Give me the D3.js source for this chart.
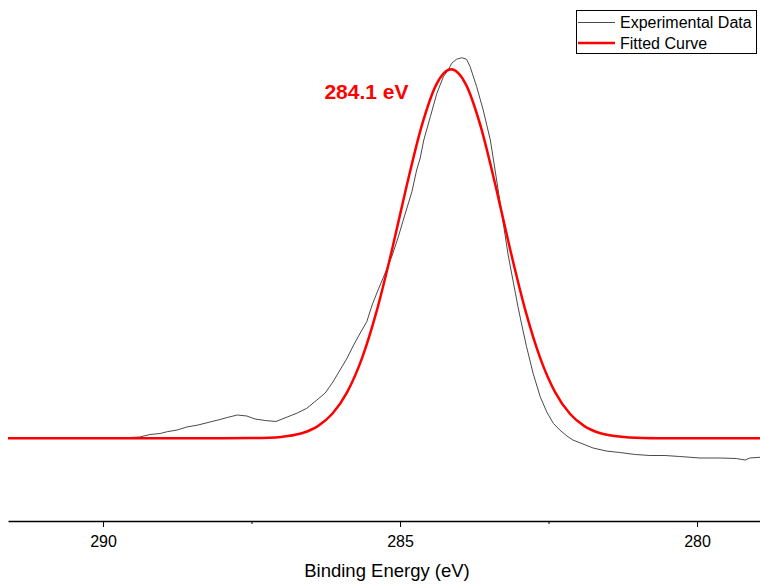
<!DOCTYPE html>
<html>
<head>
<meta charset="utf-8">
<script src="https://cdn.jsdelivr.net/npm/d3@7"></script>
<style>
  html, body { margin: 0; padding: 0; background: #fff; }
  svg text { font-family: Arial, "Liberation Sans", sans-serif; }
</style>
</head>
<body>
<svg id="chart" width="760" height="584"></svg>
<script>
// Experimental data: binding energy (eV) and intensity (a.u.)
const expEnergy = [291.57,291.23,290.89,290.56,290.22,289.88,289.55,289.38,289.21,289.04,288.92,288.75,288.59,288.40,288.20,288.03,287.91,287.74,287.58,287.44,287.27,287.09,286.90,286.73,286.57,286.40,286.26,286.13,286.01,285.89,285.79,285.67,285.56,285.47,285.37,285.25,285.13,285.03,284.92,284.80,284.72,284.66,284.60,284.49,284.38,284.27,284.21,284.16,284.13,284.05,283.96,283.88,283.82,283.71,283.60,283.48,283.40,283.27,283.18,283.10,283.01,282.95,282.87,282.76,282.64,282.53,282.42,282.31,282.19,282.09,281.92,281.75,281.53,281.30,281.04,280.79,280.54,280.29,279.95,279.61,279.34,279.19,279.11,278.94];
const expIntensity = [0.3,0.3,-0.2,0.3,-0.2,0.3,0.8,1.3,3.8,4.8,6.6,8.3,11.3,13.3,16.3,18.8,20.8,23.3,22.3,19.3,17.8,16.8,21.3,25.3,30.0,38.3,45.3,56.3,68.3,80.3,92.3,105.3,116.6,133.3,148.3,165.3,183.3,201.3,223.3,246.6,268.3,280.3,298.3,321.6,345.0,361.6,366.6,371.6,375.0,379.0,380.6,379.0,371.6,351.6,328.3,298.3,268.3,218.3,183.3,158.3,130.3,113.3,91.6,65.0,41.6,26.3,15.0,8.3,2.3,-1.7,-5.7,-9.7,-12.7,-14.2,-16.2,-17.2,-17.2,-18.2,-19.7,-19.7,-20.2,-21.7,-19.7,-19.0];

// Fitted curve
const fitEnergy = [291.6,290.0,289.0,288.0,287.5,287.0,286.89,286.64,286.39,286.14,285.89,285.64,285.39,285.14,284.89,284.64,284.39,284.14,283.89,283.64,283.39,283.14,282.89,282.64,282.39,282.14,281.89,281.64,281.39,281.14,280.64,280.0,279.0,278.94];
const fitIntensity = [0,0,0,0,0.2,1.4,2.2,5.3,11.9,24.5,46.2,80.2,127.9,187.3,252.0,311.4,353.7,369.0,353.7,311.4,252.0,187.3,127.9,80.2,46.2,24.5,11.9,5.3,2.2,0.8,0.1,0,0,0];

const majorTicks = [290, 285, 280];
const minorTicks = [287.5, 282.5];
const seriesNames = ["Experimental Data", "Fitted Curve"];
const peakLabel = "284.1 eV";
const peakEnergy = 284.1;
const axisTitle = "Binding Energy (eV)";

const svg = d3.select("#chart");
const xLeft = 8, xRight = 760, axisY = 521;

const x = d3.scaleLinear().domain([291.6, 278.94]).range([xLeft, xRight]);
const y = d3.scaleLinear().domain([0, 369]).range([438.3, 69.3]);

const expData = expEnergy.map((e, i) => ({e, v: expIntensity[i]}));
const fitData = fitEnergy.map((e, i) => ({e, v: fitIntensity[i]}));

svg.append("path")
  .datum(expData)
  .attr("fill", "none")
  .attr("stroke", "#4a4a4a")
  .attr("stroke-width", 1)
  .attr("d", d3.line().x(d => x(d.e)).y(d => y(d.v)));

svg.append("path")
  .datum(fitData)
  .attr("fill", "none")
  .attr("stroke", "#ff0000")
  .attr("stroke-width", 2.5)
  .attr("d", d3.line().x(d => x(d.e)).y(d => y(d.v)).curve(d3.curveMonotoneX));

// Axis
const axis = d3.axisBottom(x).tickValues(majorTicks).tickSize(6).tickSizeOuter(0).tickPadding(9)
  .tickFormat(d3.format("d"));
const gAxis = svg.append("g").attr("transform", `translate(0,${axisY})`).call(axis);
gAxis.select(".domain").attr("stroke", "#000").attr("stroke-width", 1.5);
gAxis.selectAll(".tick line").attr("stroke", "#000").attr("stroke-width", 1);
gAxis.selectAll(".tick text").attr("font-size", 16).attr("fill", "#000")
  .attr("font-family", "Arial, 'Liberation Sans', sans-serif");

const minorAxis = d3.axisBottom(x).tickValues(minorTicks).tickSize(3).tickSizeOuter(0).tickFormat("");
const gMinor = svg.append("g").attr("transform", `translate(0,${axisY})`).call(minorAxis);
gMinor.select(".domain").remove();
gMinor.selectAll(".tick line").attr("stroke", "#000");

svg.append("text")
  .attr("x", 387)
  .attr("y", 577)
  .attr("text-anchor", "middle")
  .attr("font-size", 18.5)
  .attr("fill", "#000")
  .text(axisTitle);

// Peak annotation
svg.append("text")
  .attr("x", x(peakEnergy) - 45)
  .attr("y", 99)
  .attr("text-anchor", "end")
  .attr("font-size", 21)
  .attr("font-weight", "bold")
  .attr("fill", "#ff0000")
  .text(peakLabel);

// Legend
const lg = svg.append("g");
lg.append("rect")
  .attr("x", 576.5).attr("y", 10.5).attr("width", 180).attr("height", 43)
  .attr("fill", "#fff").attr("stroke", "#000").attr("stroke-width", 1);
const lgColors = ["#4a4a4a", "#ff0000"], lgWidths = [1, 2.5];
seriesNames.forEach((name, i) => {
  const yy = 22.5 + i * 20.5;
  lg.append("line").attr("x1", 578).attr("x2", 615).attr("y1", yy).attr("y2", yy)
    .attr("stroke", lgColors[i]).attr("stroke-width", lgWidths[i]);
  lg.append("text").attr("x", 620).attr("y", yy + 5.5).attr("font-size", 16).attr("fill", "#000").text(name);
});
</script>
</body>
</html>
